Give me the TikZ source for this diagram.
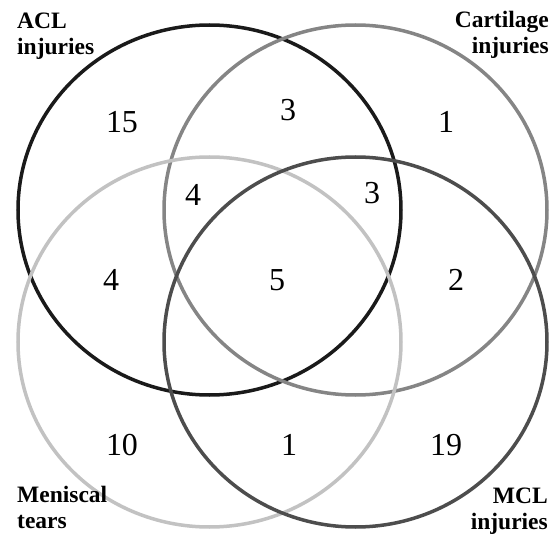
\documentclass[tikz,border=0pt]{standalone}
\usepackage{fontspec}
\setmainfont{Liberation Serif}
\definecolor{cA}{HTML}{1A1A1A}
\definecolor{cB}{HTML}{858585}
\definecolor{cC}{HTML}{C2C2C2}
\definecolor{cD}{HTML}{4D4D4D}
\tikzset{
  ring/.style={line width=3.5pt},
  num/.style={font=\fontsize{32}{36}\selectfont, inner sep=0pt},
  setlabel/.style={font=\fontsize{23.5}{26}\selectfont\bfseries, inner sep=0pt}
}
\begin{document}
\begin{tikzpicture}[x=1pt,y=-1pt]
\useasboundingbox (0,0) rectangle (558,535);
\draw[ring, cA] (209.5,210) ellipse [x radius=191.5, y radius=185];
\draw[ring, cB] (355.5,210) ellipse [x radius=191.5, y radius=185];
\draw[ring, cC] (209.5,342) ellipse [x radius=191.5, y radius=185];
\draw[ring, cD] (355.5,342) ellipse [x radius=191.5, y radius=185];

\node[num] (n15) at (122,122) {15};
\node[num] (n3a) at (288,110) {3};
\node[num] (n1a) at (446,122) {1};
\node[num] (n4a) at (193,195) {4};
\node[num] (n3b) at (372,193) {3};
\node[num] (n4b) at (111,280) {4};
\node[num] (n5) at (277,280) {5};
\node[num] (n2) at (456,280) {2};
\node[num] (n10) at (122,445) {10};
\node[num] (n1b) at (289,445) {1};
\node[num] (n19) at (446,445) {19};

\node[setlabel, anchor=north west, align=left] (lacl) at (17,13) {ACL\\injuries};
\node[setlabel, anchor=north east, align=right] (lcart) at (549,11) {Cartilage\\injuries};
\node[setlabel, anchor=north west, align=left] (lmen) at (17,486) {Meniscal\\tears};
\node[setlabel, anchor=north east, align=right] (lmcl) at (548,488) {MCL\\injuries};
\end{tikzpicture}
\end{document}
